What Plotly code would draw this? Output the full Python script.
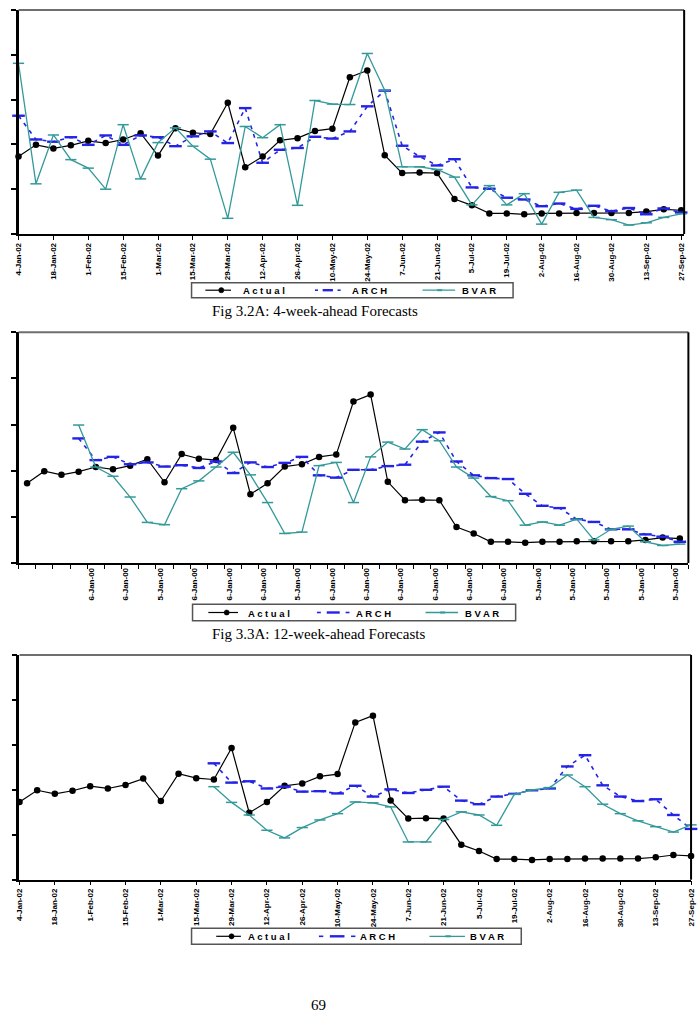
import plotly.graph_objects as go

# ---------------- data ----------------
weeks = ["4-Jan-02", "11-Jan-02", "18-Jan-02", "25-Jan-02", "1-Feb-02", "8-Feb-02",
         "15-Feb-02", "22-Feb-02", "1-Mar-02", "8-Mar-02", "15-Mar-02", "22-Mar-02",
         "29-Mar-02", "5-Apr-02", "12-Apr-02", "19-Apr-02", "26-Apr-02", "3-May-02",
         "10-May-02", "17-May-02", "24-May-02", "31-May-02", "7-Jun-02", "14-Jun-02",
         "21-Jun-02", "28-Jun-02", "5-Jul-02", "12-Jul-02", "19-Jul-02", "26-Jul-02",
         "2-Aug-02", "9-Aug-02", "16-Aug-02", "23-Aug-02", "30-Aug-02", "6-Sep-02",
         "13-Sep-02", "20-Sep-02", "27-Sep-02"]

labels_12wk = ["6-Jan-00", "6-Jan-00", "5-Jan-00", "6-Jan-00", "6-Jan-00", "6-Jan-00",
               "5-Jan-00", "6-Jan-00", "6-Jan-00", "6-Jan-00", "6-Jan-00", "6-Jan-00",
               "6-Jan-00", "5-Jan-00", "5-Jan-00", "5-Jan-00", "5-Jan-00", "5-Jan-00"]
labels_12wk_start = 4

actual = [1.73, 1.99, 1.91, 1.98, 2.08, 2.03, 2.11, 2.25, 1.75, 2.36, 2.26, 2.23, 2.93,
          1.49, 1.73, 2.09, 2.14, 2.30, 2.35, 3.50, 3.65, 1.76, 1.36, 1.37, 1.36, 0.78,
          0.64, 0.46, 0.46, 0.44, 0.46, 0.46, 0.47, 0.47, 0.47, 0.47, 0.50, 0.55, 0.53]

# 4-week-ahead forecasts (all weeks)
arch_4wk = [2.64, 2.11, 2.06, 2.16, 1.99, 2.20, 1.99, 2.20, 2.16, 1.96, 2.18, 2.29, 2.03,
            2.81, 1.59, 1.88, 1.92, 2.17, 2.13, 2.29, 2.85, 3.20, 1.97, 1.73, 1.53, 1.67,
            1.04, 1.01, 0.81, 0.77, 0.62, 0.68, 0.56, 0.63, 0.51, 0.58, 0.44, 0.57, 0.48]
bvar_4wk = [3.81, 1.12, 2.21, 1.66, 1.47, 1.00, 2.44, 1.23, 2.04, 2.37, 1.96, 1.67, 0.35,
            2.40, 2.15, 2.44, 0.64, 2.98, 2.90, 2.89, 4.03, 3.21, 1.50, 1.50, 1.44, 1.27,
            0.65, 1.08, 0.65, 0.90, 0.22, 0.93, 0.98, 0.37, 0.32, 0.20, 0.25, 0.37, 0.45]

# 12-week-ahead forecasts (from week index 3)
start_12wk = 3
arch_12wk = [2.70, 2.23, 2.30, 2.14, 2.18, 2.09, 2.12, 2.06, 2.20, 1.95, 2.18, 2.08, 2.17,
             2.30, 1.90, 1.85, 2.02, 2.02, 2.10, 2.13, 2.63, 2.83, 2.20, 1.90, 1.84, 1.82,
             1.50, 1.24, 1.19, 0.95, 0.89, 0.73, 0.73, 0.62, 0.57, 0.46]
bvar_12wk = [2.99, 2.08, 1.88, 1.43, 0.88, 0.83, 1.61, 1.78, 2.08, 2.40, 1.91, 1.31, 0.64,
             0.67, 2.11, 2.18, 1.31, 2.30, 2.62, 2.47, 2.89, 2.65, 2.08, 1.84, 1.44, 1.35,
             0.82, 0.89, 0.82, 0.95, 0.50, 0.73, 0.80, 0.46, 0.38, 0.41]

# third panel forecasts (from week index 11)
start_c = 11
arch_c = [2.59, 2.16, 2.19, 2.03, 2.07, 1.96, 1.97, 1.92, 2.09, 1.85, 2.01, 1.93, 2.00,
          2.07, 1.76, 1.68, 1.85, 1.91, 1.99, 2.03, 2.52, 2.77, 2.10, 1.85, 1.75, 1.79,
          1.44, 1.13]
bvar_c = [2.07, 1.72, 1.44, 1.10, 0.93, 1.16, 1.33, 1.47, 1.73, 1.71, 1.62, 0.84, 0.84,
          1.34, 1.51, 1.44, 1.21, 1.90, 2.00, 2.05, 2.33, 2.07, 1.68, 1.47, 1.31, 1.18,
          1.06, 1.22]

captions = ["Fig 3.2A: 4-week-ahead Forecasts", "Fig 3.3A: 12-week-ahead Forecasts"]
page_number = "69"
series_names = ["A c t u a l", "A R C H", "B V A R"]

# ---------------- styling ----------------
W, H = 700, 1024
BLACK = "#000000"
BLUE = "#2424e6"
TEAL = "#339999"
TICKFONT = dict(family="Liberation Sans", size=8, color=BLACK, weight="bold")
LEGFONT = dict(family="Liberation Sans", size=9.5, color=BLACK, weight="bold")


def px_x(p):
    return p / W


def px_y(p):
    return 1 - p / H


fig = go.Figure()

panels = [
    # (axis suffix, x px range, y px range, x range)
    ("", (14.7, 689.0), (10.0, 234.0), [0, 38.17]),
    ("2", (14.7, 693.3), (332.3, 563.0), [-0.5, 38.5]),
    ("3", (15.7, 696.0), (655.0, 879.7), [0, 38.0]),
]

idx_all = list(range(len(weeks)))
series_sets = [
    (idx_all, actual, idx_all, arch_4wk, idx_all, bvar_4wk),
    (idx_all, actual, list(range(start_12wk, start_12wk + len(arch_12wk))), arch_12wk,
     list(range(start_12wk, start_12wk + len(bvar_12wk))), bvar_12wk),
    (idx_all, actual, list(range(start_c, start_c + len(arch_c))), arch_c,
     list(range(start_c, start_c + len(bvar_c))), bvar_c),
]

for (suf, _, _, _), (xa, ya, xb, yb, xc, yc) in zip(panels, series_sets):
    xr = "x" + suf
    yr = "y" + suf
    fig.add_trace(go.Scatter(x=xa, y=ya, xaxis=xr, yaxis=yr, mode="lines+markers",
                             name=series_names[0], showlegend=False, cliponaxis=False,
                             line=dict(color=BLACK, width=1.2),
                             marker=dict(symbol="circle", size=6.5, color=BLACK)))
    fig.add_trace(go.Scatter(x=xb, y=yb, xaxis=xr, yaxis=yr, mode="lines+markers",
                             name=series_names[1], showlegend=False, cliponaxis=False,
                             line=dict(color=BLUE, width=1.6, dash="4px,5px"),
                             marker=dict(symbol="line-ew", size=9,
                                         line=dict(color=BLUE, width=2.4))))
    fig.add_trace(go.Scatter(x=xc, y=yc, xaxis=xr, yaxis=yr, mode="lines+markers",
                             name=series_names[2], showlegend=False, cliponaxis=False,
                             line=dict(color=TEAL, width=1.3),
                             marker=dict(symbol="line-ew", size=8,
                                         line=dict(color=TEAL, width=1.5))))

layout = dict(
    width=W, height=H, autosize=False,
    margin=dict(l=0, r=0, t=0, b=0),
    paper_bgcolor="white", plot_bgcolor="white",
    showlegend=False,
)

shapes = []
for i, (suf, (xl, xrp), (yt, yb), xrange_) in enumerate(panels):
    xkey = "xaxis" + suf
    ykey = "yaxis" + suf
    if i == 1:
        xaxis = dict(
            tickmode="array",
            tickvals=[labels_12wk_start + 2 * k - 0.25 for k in range(len(labels_12wk))],
            ticktext=labels_12wk, ticks="", ticklen=0,
            minor=dict(tickmode="array",
                       tickvals=[v - 0.5 for v in range(len(weeks) + 1)],
                       ticks="outside", ticklen=4, tickwidth=1.3, tickcolor=BLACK),
        )
    else:
        xaxis = dict(
            tickmode="array",
            tickvals=idx_all[::2], ticktext=weeks[::2],
            ticks="outside", ticklen=4, tickwidth=1.3, tickcolor=BLACK,
        )
    xaxis.update(
        domain=[px_x(xl), px_x(xrp)], range=xrange_, anchor="y" + suf,
        showline=True, linecolor=BLACK, linewidth=1.5,
        tickangle=-90, tickfont=TICKFONT, showgrid=False, zeroline=False,
        fixedrange=True,
    )
    yaxis = dict(
        domain=[px_y(yb), px_y(yt)], range=[0, 5], anchor="x" + suf,
        showline=True, linecolor=BLACK, linewidth=2.5,
        ticks="outside", ticklen=5, tickwidth=1.5, tickcolor=BLACK,
        tickmode="linear", tick0=0, dtick=1,
        showticklabels=False, showgrid=False, zeroline=False, fixedrange=True,
    )
    layout[xkey] = xaxis
    layout[ykey] = yaxis
    xd = ("x" + suf) + " domain"
    yd = ("y" + suf) + " domain"
    shapes.append(dict(type="line", xref=xd, yref=yd, x0=0, x1=1, y0=1, y1=1,
                       line=dict(color="#6e6e6e", width=2)))
    shapes.append(dict(type="line", xref=xd, yref=yd, x0=1, x1=1, y0=0, y1=1,
                       line=dict(color=BLACK, width=2)))

annotations = []

# ---------------- legends (drawn as boxes, sample lines and text) ----------------
# box (left, right, top, bottom) in px, then per item (line start, line end, text start)
legend_layouts = [
    ((190.0, 515.7, 282.7, 297.7), [(204, 230, 240), (315, 341, 350), (424, 457, 462)]),
    ((191.0, 518.3, 604.3, 620.7), [(207, 237, 245), (317, 350, 355), (427, 460, 465)]),
    ((190.0, 524.0, 928.3, 944.3), [(215, 240, 245), (319, 356, 359), (431, 467, 470)]),
]


def pline(x0, x1, yc, color, width):
    return dict(type="line", xref="paper", yref="paper",
                x0=px_x(x0), x1=px_x(x1), y0=px_y(yc), y1=px_y(yc),
                line=dict(color=color, width=width))


for (bl, br, bt, bb), items in legend_layouts:
    shapes.append(dict(type="rect", xref="paper", yref="paper",
                       x0=px_x(bl), x1=px_x(br), y0=px_y(bb), y1=px_y(bt),
                       line=dict(color="#555555", width=1.5), fillcolor="rgba(0,0,0,0)"))
    yc = (bt + bb) / 2
    # Actual: black line with dot
    s, e, t = items[0]
    shapes.append(pline(s, e, yc, BLACK, 1.2))
    dx = s + 0.62 * (e - s)
    shapes.append(dict(type="circle", xref="paper", yref="paper",
                       x0=px_x(dx - 2.6), x1=px_x(dx + 2.6),
                       y0=px_y(yc + 2.6), y1=px_y(yc - 2.6),
                       fillcolor=BLACK, line=dict(color=BLACK, width=0.5)))
    # ARCH: short dash, thick long dash, short dash
    s, e, t = items[1]
    L = e - s
    shapes.append(pline(s, s + 0.12 * L, yc, BLUE, 1.6))
    shapes.append(pline(s + 0.3 * L, s + 0.7 * L, yc, BLUE, 2.4))
    shapes.append(pline(s + 0.88 * L, e, yc, BLUE, 1.6))
    # BVAR: teal line with tiny marker
    s, e, t = items[2]
    shapes.append(pline(s, e, yc, TEAL, 1.3))
    shapes.append(pline(s + 0.45 * (e - s), s + 0.6 * (e - s), yc, TEAL, 2.0))
    for (s, e, t), name in zip(items, series_names):
        annotations.append(dict(text=name, x=px_x(t), y=px_y(yc + 0.5), xref="paper",
                                yref="paper", showarrow=False, xanchor="left",
                                yanchor="middle", font=LEGFONT))

layout["shapes"] = shapes

serif = dict(family="Liberation Serif", size=15, color=BLACK)
annotations += [
    dict(text=captions[0], x=px_x(315.5), y=px_y(311), xref="paper", yref="paper",
         showarrow=False, xanchor="center", yanchor="middle", font=serif),
    dict(text=captions[1], x=px_x(319.0), y=px_y(634), xref="paper", yref="paper",
         showarrow=False, xanchor="center", yanchor="middle", font=serif),
    dict(text=page_number, x=px_x(319.0), y=px_y(1005), xref="paper", yref="paper",
         showarrow=False, xanchor="center", yanchor="middle", font=serif),
]
layout["annotations"] = annotations

fig.update_layout(**layout)
fig.write_html("out.html")
